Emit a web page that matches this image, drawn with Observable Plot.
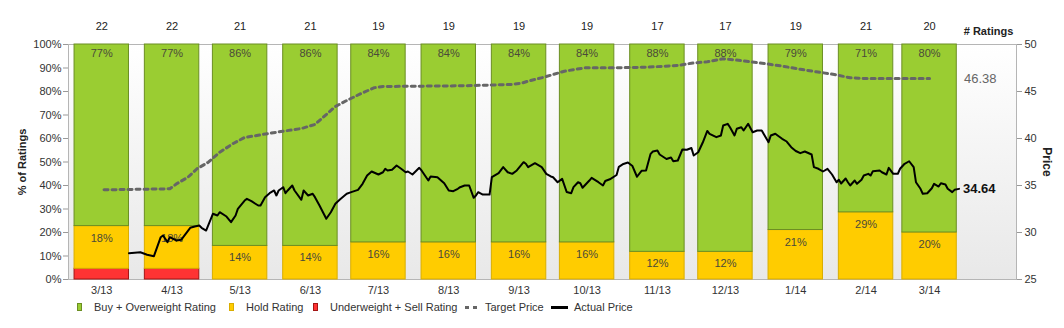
<!DOCTYPE html>
<html>
<head>
<meta charset="utf-8">
<script src="https://cdn.jsdelivr.net/npm/d3@7"></script>
<script src="https://cdn.jsdelivr.net/npm/@observablehq/plot@0.6"></script>
<style>
  body { margin: 0; background: #fff; font-family: "Liberation Sans", Arial, sans-serif; }
  #wrap { position: relative; width: 1064px; height: 328px; }
  #legend { position: absolute; left: 0; top: 299px; width: 1064px; height: 16px; font-size: 11px; color: #333; }
  .item { position: absolute; top: 0; height: 16px; display: flex; align-items: center; white-space: nowrap; }
  .sw { display: inline-block; width: 5px; height: 8px; box-sizing: border-box; border: 1px solid; }
  .dash { display: inline-block; width: 12px; height: 3px; background: repeating-linear-gradient(90deg, #666 0 4px, transparent 4px 8px); }
  .solid { display: inline-block; width: 17px; height: 3px; background: #000; }
</style>
</head>
<body>
<div id="wrap">
  <div id="chart"></div>
  <div id="legend"></div>
</div>
<script>
// ---- data ----
const months = ["3/13","4/13","5/13","6/13","7/13","8/13","9/13","10/13","11/13","12/13","1/14","2/14","3/14"];
const monthStarts = ["2013-03-01","2013-04-01","2013-05-01","2013-06-01","2013-07-01","2013-08-01","2013-09-01","2013-10-01","2013-11-01","2013-12-01","2014-01-01","2014-02-01","2014-03-01"];
const numRatings = [22,22,21,21,19,19,19,19,17,17,19,21,20];
const buyCount  = [17,17,18,18,16,16,16,16,15,15,15,15,16];
const holdCount = [4,4,3,3,3,3,3,3,2,2,4,6,4];
const sellCount = [1,1,0,0,0,0,0,0,0,0,0,0,0];
const pctTicks = [0,10,20,30,40,50,60,70,80,90,100];
const priceTicks = [25,30,35,40,45,50];
// prices: [days since 2013-03-01, price]
const targetPrice = [[13,34.54],[42,34.65],[45,35.18],[50,35.88],[54,36.78],[59,37.48],[64,38.54],[70,39.47],[75,40.11],[83,40.43],[91,40.74],[100,41.06],[106,41.49],[111,42.55],[115,43.40],[120,44.04],[126,44.75],[132,45.39],[136,45.53],[172,45.61],[192,45.74],[197,45.88],[201,46.17],[207,46.52],[216,47.16],[225,47.52],[238,47.52],[252,47.58],[266,47.77],[272,48.01],[279,48.16],[286,48.48],[291,48.37],[298,48.16],[305,47.95],[313,47.66],[320,47.37],[327,47.10],[335,46.81],[342,46.46],[348,46.38],[377,46.38]];
const actualPrice = [[24,27.80],[29,27.90],[32,27.63],[35,27.48],[38,29.50],[39,29.68],[41,28.97],[42,29.50],[45,29.15],[47,29.22],[49,29.86],[51,30.50],[53,30.64],[55,30.74],[56,30.50],[58,30.21],[61,31.99],[63,31.81],[64,32.16],[67,31.70],[69,31.10],[71,31.81],[72,32.52],[75,33.40],[76,33.58],[78,33.33],[81,32.87],[82,32.87],[84,33.76],[86,34.18],[88,34.47],[89,33.94],[90,34.47],[92,34.82],[93,34.18],[94,34.47],[96,35.00],[97,34.47],[100,33.48],[101,34.47],[103,33.94],[105,34.12],[106,33.76],[108,32.87],[111,31.46],[113,32.16],[115,33.05],[117,33.51],[120,34.12],[122,34.29],[125,34.54],[127,35.18],[129,36.06],[131,36.49],[134,36.17],[136,36.41],[137,36.78],[138,36.60],[140,36.67],[142,37.13],[144,36.78],[146,36.41],[147,36.49],[149,36.17],[152,36.88],[153,36.60],[156,35.53],[157,35.96],[160,35.88],[163,35.24],[165,34.47],[167,34.39],[169,34.65],[170,34.82],[172,35.00],[174,35.00],[176,33.69],[177,33.94],[178,34.29],[180,34.04],[183,34.04],[184,35.88],[187,36.31],[189,36.95],[191,36.41],[193,36.24],[195,36.60],[198,37.48],[199,37.31],[200,36.95],[203,37.37],[206,36.95],[208,36.24],[210,35.96],[211,35.88],[213,35.35],[215,35.71],[217,34.31],[219,34.18],[220,34.82],[222,35.35],[223,35.24],[224,34.76],[227,35.53],[228,35.82],[231,35.35],[233,35.00],[234,35.48],[236,35.66],[239,36.12],[240,36.99],[242,37.29],[244,37.45],[246,37.07],[248,35.93],[250,36.56],[252,36.60],[254,38.37],[255,38.62],[257,38.72],[258,38.30],[261,37.82],[263,37.98],[264,37.57],[266,37.66],[268,38.83],[270,38.80],[272,38.99],[273,38.19],[275,38.54],[277,39.57],[279,40.80],[280,40.50],[283,40.14],[285,40.32],[286,41.38],[288,41.56],[289,41.20],[291,40.32],[292,41.03],[294,41.20],[295,40.85],[297,41.56],[299,40.67],[301,40.85],[303,40.85],[306,39.61],[307,40.32],[309,40.50],[310,40.32],[312,39.97],[314,39.68],[316,39.07],[318,38.67],[320,38.44],[322,38.62],[325,38.30],[326,36.95],[328,36.78],[330,36.49],[332,36.78],[334,36.17],[336,35.35],[337,35.61],[338,35.21],[340,35.74],[341,35.35],[342,35.00],[344,35.53],[345,35.18],[347,35.61],[348,36.06],[350,36.24],[351,36.06],[352,36.52],[355,36.60],[356,36.41],[358,36.17],[359,36.88],[361,36.24],[363,36.24],[364,36.78],[366,37.31],[368,37.58],[370,36.95],[371,35.35],[373,34.65],[374,34.12],[376,34.18],[378,34.71],[379,35.18],[381,34.89],[382,35.24],[384,35.11],[385,34.65],[387,34.29],[388,34.54],[390,34.64]];
const seriesStart = "2013-03-01";
const colors = {buy: "#9acd32", hold: "#ffcc00", sell: "#ff3333"};
const strokes = {buy: "#6b8e23", hold: "#d9ad00", sell: "#a31515"};

// ---- build ----
const t0 = new Date(seriesStart);
const dayDate = d => d3.utcDay.offset(t0, d);
const toPct = d3.scaleLinear([priceTicks[0], priceTicks[priceTicks.length - 1]], [0, 100]);

const monthRows = months.map((m, i) => {
  const s = new Date(monthStarts[i]);
  const n = numRatings[i];
  const sp = sellCount[i] / n * 100, hp = holdCount[i] / n * 100, bp = buyCount[i] / n * 100;
  return {m, n, x1: s, x2: d3.utcDay.offset(s, 24), xc: d3.utcDay.offset(s, 12), sp, hp, bp};
});
const segs = [];
for (const r of monthRows) {
  if (r.sp > 0) segs.push({x1: r.x1, x2: r.x2, y1: 0, y2: r.sp, k: "sell"});
  segs.push({x1: r.x1, x2: r.x2, y1: r.sp, y2: r.sp + r.hp, k: "hold"});
  segs.push({x1: r.x1, x2: r.x2, y1: r.sp + r.hp, y2: 100, k: "buy"});
}
const target = targetPrice.map(([d, p]) => ({x: dayDate(d), y: toPct(p), p}));
const actual = actualPrice.map(([d, p]) => ({x: dayDate(d), y: toPct(p), p}));
const lastA = actual[actual.length - 1];
const lastT = target[target.length - 1];
const labelOf = new Map(monthRows.map(r => [+r.xc, r.m]));

const svg = Plot.plot({
  width: 1064,
  height: 298,
  marginTop: 44,
  marginBottom: 19,
  marginLeft: 68,
  marginRight: 48,
  style: {fontFamily: "'Liberation Sans', Arial, sans-serif", fontSize: "11px", color: "#333", background: "transparent"},
  x: {type: "utc", domain: [new Date(Date.UTC(2013, 1, 26, 8)), new Date(Date.UTC(2014, 3, 20, 8))]},
  y: {domain: [0, 100]},
  marks: [
    Plot.frame({fill: "url(#bgGrad)", stroke: "#b5b5b5"}),
    Plot.axisY({anchor: "left", ticks: pctTicks, tickFormat: d => d + "%", tickSize: 5, tickPadding: 2, label: null, stroke: "#999", fill: "#333"}),
    Plot.axisY({anchor: "right", ticks: priceTicks.map(toPct), tickFormat: d => String(Math.round(toPct.invert(d))), tickSize: 5, tickPadding: 3, label: null, stroke: "#999", fill: "#333"}),
    Plot.axisX({ticks: monthRows.map(r => r.xc), tickFormat: d => labelOf.get(+d), tickSize: 0, tickPadding: 7, label: null, fill: "#333"}),
    Plot.rect(segs, {x1: "x1", x2: "x2", y1: "y1", y2: "y2", fill: d => colors[d.k], stroke: d => strokes[d.k], strokeWidth: 1}),
    Plot.text(monthRows, {x: "xc", y: 100, text: r => Math.round(r.bp) + "%", dy: 9, fill: "#4a4a3a", fontSize: 11}),
    Plot.text(monthRows, {x: "xc", y: r => r.sp + r.hp, text: r => Math.round(r.hp) + "%", dy: 12, fill: "#4a4a3a", fontSize: 11}),
    Plot.text(monthRows, {x: "xc", y: 100, text: r => String(r.n), dy: -18, fill: "#222", fontSize: 11}),
    Plot.text(["# Ratings"], {frameAnchor: "top-right", textAnchor: "middle", dx: -28, dy: -17, fill: "#222", fontWeight: "bold", fontSize: 11}),
    Plot.text(["% of Ratings"], {frameAnchor: "left", textAnchor: "middle", rotate: -90, dx: -46, fill: "#222", fontWeight: "bold", fontSize: 11}),
    Plot.text(["Price"], {frameAnchor: "right", textAnchor: "middle", rotate: 90, dx: 30, fill: "#222", fontWeight: "bold", fontSize: 12}),
    Plot.line(target, {x: "x", y: "y", stroke: "#666", strokeWidth: 3, strokeDasharray: "4,4"}),
    Plot.line(actual, {x: "x", y: "y", stroke: "#000", strokeWidth: 2, strokeLinejoin: "round"}),
    Plot.text([lastT], {x: () => lastA.x, y: "y", text: d => d.p.toFixed(2), dx: 5, textAnchor: "start", fill: "#666", fontSize: 13}),
    Plot.text([lastA], {x: "x", y: "y", text: d => d.p.toFixed(2), dx: 4, textAnchor: "start", fill: "#111", fontSize: 13, fontWeight: "bold"})
  ]
});

const defs = d3.select(svg).insert("defs", ":first-child");
const grad = defs.append("linearGradient").attr("id", "bgGrad").attr("x1", 0).attr("y1", 0).attr("x2", 0).attr("y2", 1);
grad.append("stop").attr("offset", "0%").attr("stop-color", "#ffffff");
grad.append("stop").attr("offset", "100%").attr("stop-color", "#e8e8e8");
document.getElementById("chart").appendChild(svg);

// ---- legend ----
const legendItems = [
  {label: "Buy + Overweight Rating", kind: "sw", k: "buy", left: 77, gap: 12},
  {label: "Hold Rating", kind: "sw", k: "hold", left: 229, gap: 12},
  {label: "Underweight + Sell Rating", kind: "sw", k: "sell", left: 313, gap: 12},
  {label: "Target Price", kind: "dash", left: 465, gap: 8},
  {label: "Actual Price", kind: "solid", left: 551, gap: 6}
];
const lg = document.getElementById("legend");
for (const it of legendItems) {
  const d = document.createElement("div");
  d.className = "item";
  d.style.left = it.left + "px";
  const mk = document.createElement("span");
  mk.className = it.kind;
  if (it.kind === "sw") { mk.style.background = colors[it.k]; mk.style.borderColor = strokes[it.k]; }
  const tx = document.createElement("span");
  tx.textContent = it.label;
  tx.style.marginLeft = it.gap + "px";
  d.appendChild(mk); d.appendChild(tx);
  lg.appendChild(d);
}
</script>
</body>
</html>
